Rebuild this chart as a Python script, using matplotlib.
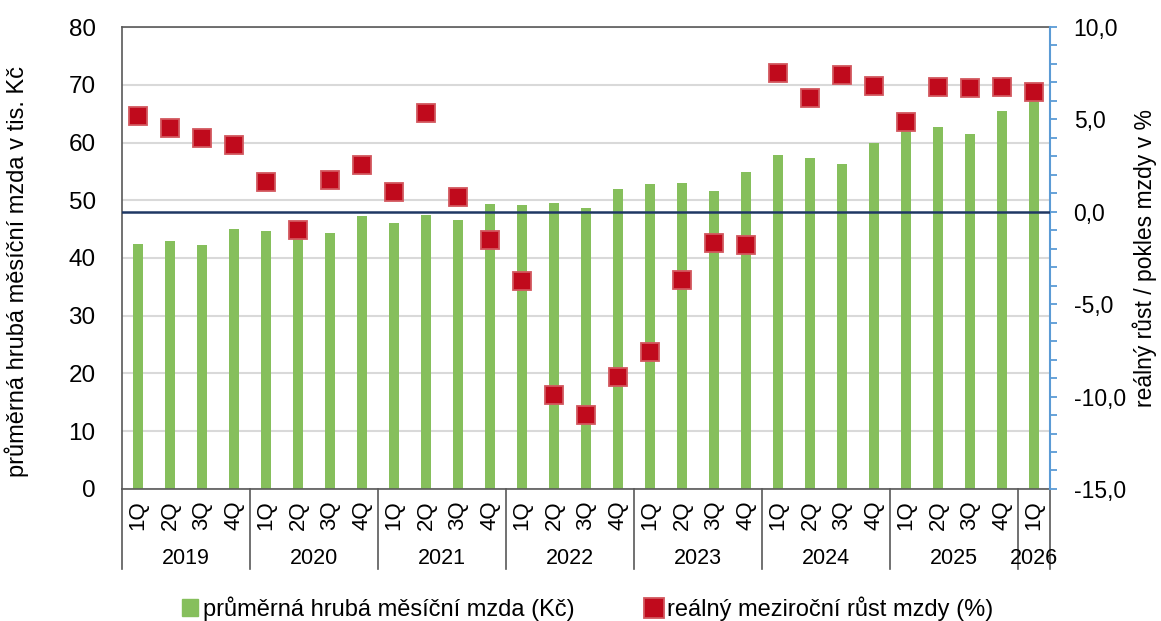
import matplotlib
matplotlib.use('Agg')
import matplotlib.pyplot as plt
import matplotlib.ticker as ticker
import matplotlib.transforms as transforms
from matplotlib.lines import Line2D
from matplotlib.patches import Patch
import numpy as np

plt.rcParams['font.family'] = ['Liberation Sans', 'DejaVu Sans']

# data
years = ['2019', '2020', '2021', '2022', '2023', '2024', '2025', '2026']
quarters = ['1Q', '2Q', '3Q', '4Q'] * 7 + ['1Q']
wage = [42.4, 43.0, 42.2, 45.0,
        44.6, 43.6, 44.3, 47.2,
        46.0, 47.5, 46.5, 49.3,
        49.2, 49.5, 48.6, 51.9,
        52.9, 53.0, 51.6, 54.9,
        57.9, 57.3, 56.2, 59.9,
        62.0, 62.6, 61.4, 65.4,
        67.8]
real_growth = [5.2, 4.55, 4.0, 3.6,
               1.6, -1.0, 1.7, 2.55,
               1.07, 5.36, 0.82, -1.5,
               -3.75, -9.9, -11.0, -8.95,
               -7.6, -3.7, -1.7, -1.8,
               7.53, 6.14, 7.42, 6.82,
               4.84, 6.74, 6.7, 6.75,
               6.48]

green = '#86bf5c'
red = '#c00a1c'
red_edge = '#d2575e'

x = np.arange(len(wage))

fig = plt.figure(figsize=(11.61, 6.21), dpi=100)
ax = fig.add_axes([0.1051, 0.2126, 0.7993, 0.7439])

ax.bar(x, wage, width=0.31, color=green, zorder=2)
ax.set_xlim(-0.5, len(wage) - 0.5)
ax.set_ylim(0, 80)
ax.set_yticks(np.arange(0, 81, 10))
ax.yaxis.grid(True, color='#d9d9d9', linewidth=1.5, zorder=0)
ax.set_axisbelow(True)
ax.tick_params(axis='y', length=0, labelsize=17.5, pad=19)
ax.set_ylabel('průměrná hrubá měsíční mzda v tis. Kč', fontsize=17)
ax.yaxis.set_label_coords(-0.1, 0.47)

ax.set_xticks(x)
ax.set_xticklabels(quarters, rotation=90, fontsize=16)
ax.tick_params(axis='x', length=0, pad=8)

for side in ['left', 'top', 'bottom']:
    ax.spines[side].set_color('#595959')
    ax.spines[side].set_linewidth(1.2)
ax.spines['right'].set_visible(False)

# second level of category axis: year groups
trans = transforms.blended_transform_factory(ax.transData, ax.transAxes)
bounds = [-0.5 + 4 * i for i in range(8)] + [len(wage) - 0.5]
for b in bounds:
    ax.plot([b, b], [0, -0.174], transform=trans, color='#595959',
            linewidth=1.2, clip_on=False)
for i, yr in enumerate(years):
    lo = bounds[i]
    hi = bounds[i + 1]
    ax.text((lo + hi) / 2, -0.15, yr, transform=trans, ha='center',
            va='center', fontsize=15.5)

ax2 = ax.twinx()
ax2.set_ylim(-15, 10)
ax2.axhline(0, color='#1f3864', linewidth=1.8, zorder=3)
ax2.plot(x, real_growth, linestyle='none', marker='s', markersize=12.5,
         markerfacecolor=red, markeredgecolor=red_edge, markeredgewidth=1.3,
         zorder=4)
ax2.yaxis.set_major_locator(ticker.MultipleLocator(5))
ax2.yaxis.set_minor_locator(ticker.MultipleLocator(1))
ax2.yaxis.set_major_formatter(ticker.FuncFormatter(lambda v, p: f'{v:.1f}'.replace('.', ',')))
ax2.tick_params(axis='y', which='both', length=5, width=1.3, color='#5b9bd5',
                labelsize=16.5, pad=12)
for side in ['left', 'top', 'bottom']:
    ax2.spines[side].set_visible(False)
ax2.spines['right'].set_color('#5b9bd5')
ax2.spines['right'].set_linewidth(1.5)
ax2.set_ylabel('reálný růst / pokles mzdy v %', fontsize=16.5, labelpad=5)

handles = [Patch(facecolor=green, edgecolor=green),
           Line2D([], [], linestyle='none', marker='s', markersize=14,
                  markerfacecolor=red, markeredgecolor=red_edge, markeredgewidth=1.3)]
fig.legend(handles, ['průměrná hrubá měsíční mzda (Kč)', 'reálný meziroční růst mzdy (%)'],
           loc='center', bbox_to_anchor=(0.506, 0.02), ncol=2, frameon=False,
           fontsize=17, handlelength=0.7, handleheight=0.7, handletextpad=0.2,
           columnspacing=3.0)

plt.savefig('out.png', dpi=100)
